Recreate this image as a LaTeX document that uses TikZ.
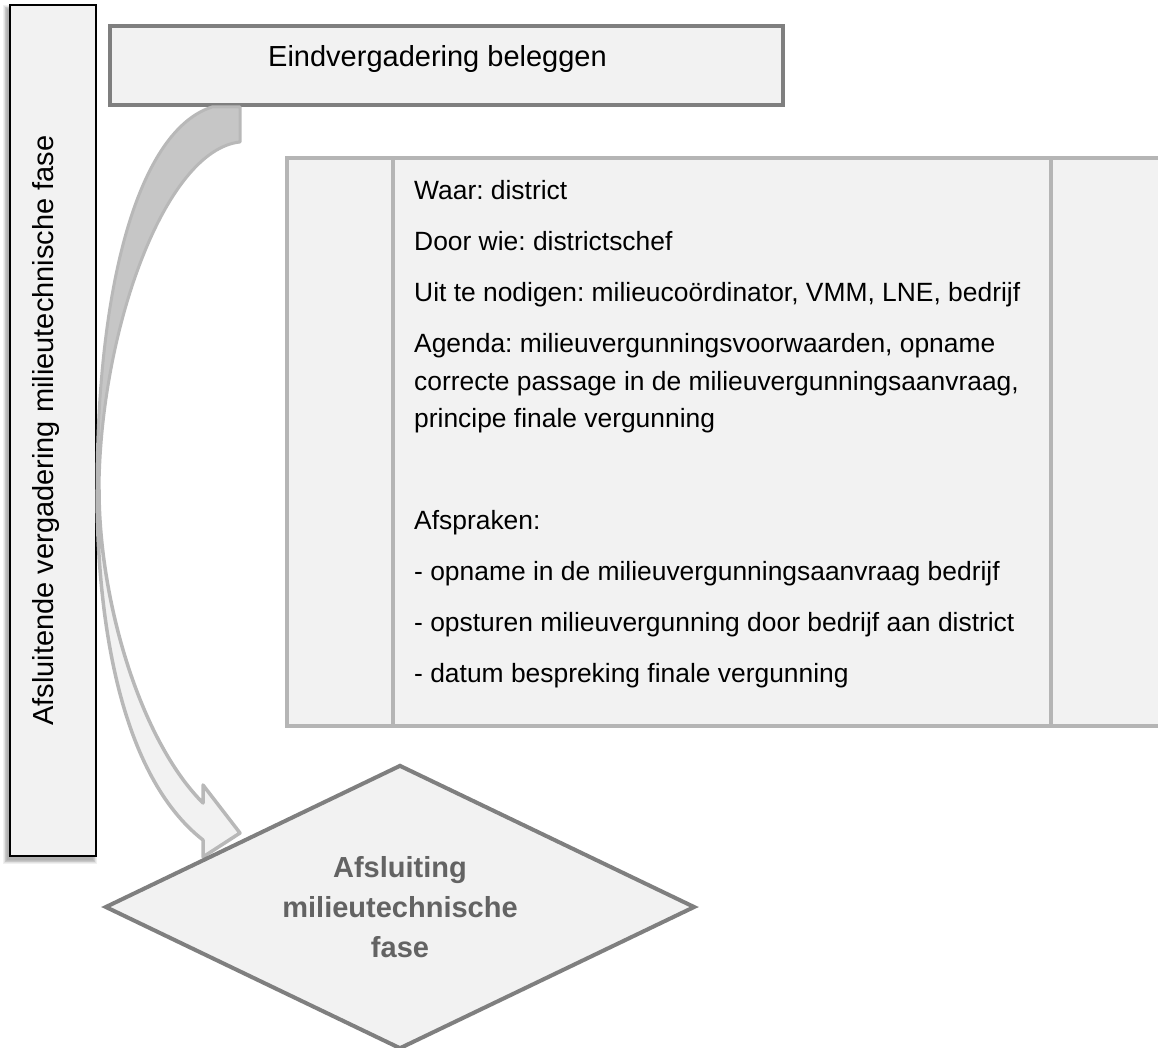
\documentclass[tikz,border=0pt]{standalone}
\usepackage{fontspec}
\setmainfont{Liberation Sans}
\usetikzlibrary{shapes.geometric}
\definecolor{boxfill}{HTML}{F2F2F2}
\definecolor{boxdark}{HTML}{7F7F7F}
\definecolor{boxlight}{HTML}{B5B5B5}
\definecolor{arrowdark}{HTML}{C6C6C6}
\definecolor{arrowedge}{HTML}{B8B8B8}
\definecolor{dtext}{HTML}{636363}
\frenchspacing
\begin{document}
\frenchspacing
\begin{tikzpicture}[x=1pt,y=-1pt,
  panel/.style={draw=boxdark, line width=4pt, fill=boxfill},
  lightpanel/.style={draw=boxlight, line width=4pt, fill=boxfill},
  bodytext/.style={font=\fontsize{26.4}{32}\selectfont, anchor=base west, inner sep=0pt, text=black},
  bigtext/.style={font=\fontsize{29}{35}\selectfont, inner sep=0pt, text=black}]
\useasboundingbox (0,0) rectangle (1158,1048);
\clip (0,0) rectangle (1158,1048);

% shadow of the phase bar
\foreach \k in {0,...,5}
  \fill[black,opacity=0.06] ({7-\k*0.8},{9-\k*0.8}) rectangle ({93+\k*0.8},{860+\k*0.8});
% phase bar
\node[draw=black, line width=1.2pt, fill=boxfill, rectangle, inner sep=0pt,
      minimum width=86pt, minimum height=851pt] (bar) at (53,430.5) {};
\node[bigtext, rotate=90, anchor=base] (bartext) at (53,430.5)
  {Afsluitende vergadering milieutechnische fase};

% top box
\node[panel, rectangle, inner sep=0pt, minimum width=673.5pt, minimum height=79.5pt] (top) at (446.25,65.75) {};
\node[bigtext, anchor=base west] (toptext) at (268,66.7) {Eindvergadering beleggen};

% curved arrow (back side, dark)
\filldraw[fill=arrowdark, draw=arrowedge, line width=3pt, line join=round]
  (212,107) -- (240,107) -- (240,142)
  .. controls (165,150) and (100,330) .. (99,490)
  -- (97,490)
  .. controls (97,280) and (140,130) .. (212,107) -- cycle;
% curved arrow (front side, light, with head)
\filldraw[fill=boxfill, draw=arrowedge, line width=3.5pt, line join=round]
  (99,490) .. controls (99,600) and (140,740) .. (203,803)
  -- (203,785) -- (240,833) -- (203,857) -- (203,840)
  .. controls (120,775) and (97,620) .. (97,490) -- cycle;

% big information box
\node[lightpanel, rectangle, inner sep=0pt, minimum width=915.5pt, minimum height=567.5pt, anchor=north west] (info) at (284.5,156.5) {};
\draw[draw=boxlight, line width=4pt] (393,156.5) -- (393,724);
\draw[draw=boxlight, line width=4pt] (1051,156.5) -- (1051,724);

\node[bodytext] (l1) at (414,199.3) {Waar: district};
\node[bodytext] (l2) at (414,250.7) {Door wie: districtschef};
\node[bodytext] (l3) at (414,301.7) {Uit te nodigen: milieucoördinator, VMM, LNE, bedrijf};
\node[bodytext] (l4) at (414,352.9) {Agenda: milieuvergunningsvoorwaarden, opname};
\node[bodytext] (l5) at (414,390.4) {correcte passage in de milieuvergunningsaanvraag,};
\node[bodytext] (l6) at (414,427.9) {principe finale vergunning};
\node[bodytext] (l7) at (414,529.9) {Afspraken:};
\node[bodytext] (l8) at (414,580.9) {- opname in de milieuvergunningsaanvraag bedrijf};
\node[bodytext] (l9) at (414,631.9) {- opsturen milieuvergunning door bedrijf aan district};
\node[bodytext] (l10) at (414,682.9) {- datum bespreking finale vergunning};

% decision diamond
\node[diamond, draw=boxdark, line width=4pt, fill=boxfill, inner sep=0pt,
      minimum width=590pt, minimum height=284pt] (end) at (400,907) {};
\node[align=center, text=dtext, inner sep=0pt,
      font=\fontsize{29}{40}\selectfont\bfseries] (endtext) at (end.center)
  {Afsluiting\\milieutechnische\\fase};
\end{tikzpicture}
\end{document}
